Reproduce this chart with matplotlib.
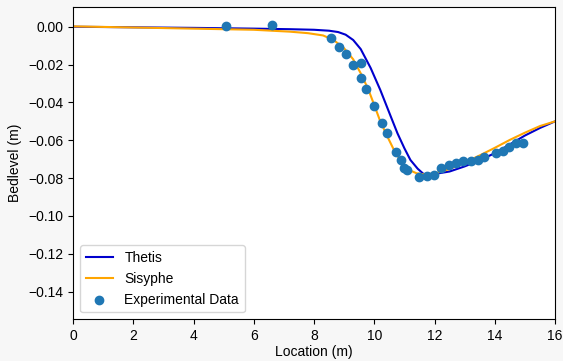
import numpy as np
import matplotlib
matplotlib.use("Agg")
import matplotlib.pyplot as plt

plt.rcParams["font.family"] = ["Liberation Sans", "DejaVu Sans"]
plt.rcParams["font.size"] = 10

# Thetis model bed level
thetis_x = [0, 2, 4, 6, 7.2, 8.0, 8.5, 8.8, 9.05, 9.3, 9.55, 9.88, 10.2, 10.55, 10.77,
            11.0, 11.2, 11.44, 11.65, 12.0, 12.5, 13.0, 13.5, 14.0, 14.5, 15.0, 15.5,
            16.0]
thetis_y = [0, -0.0003, -0.0006, -0.0010, -0.0013, -0.0016, -0.0021, -0.0028, -0.0042,
            -0.0070, -0.0118, -0.0218, -0.0334, -0.0475, -0.0563, -0.0642, -0.0704,
            -0.0750, -0.0780, -0.0778, -0.0765, -0.0738, -0.0706, -0.0668, -0.0622,
            -0.0575, -0.0535, -0.0500]

# Sisyphe model bed level
sisyphe_x = [0, 2, 4, 6, 7.2, 7.8, 8.3, 8.65, 9.0, 9.3, 9.55, 9.8, 10.0, 10.2, 10.45,
             10.65, 10.9, 11.1, 11.4, 11.65, 12.0, 12.5, 13.0, 13.5, 14.0, 14.5, 15.0,
             15.5, 16.0]
sisyphe_y = [0.0002, -0.0004, -0.0010, -0.0016, -0.0026, -0.0034, -0.0046, -0.0070,
             -0.0114, -0.0172, -0.0246, -0.0330, -0.0414, -0.0500, -0.0585, -0.0650,
             -0.0715, -0.0753, -0.0774, -0.0780, -0.0776, -0.0752, -0.0718, -0.0680,
             -0.0640, -0.0598, -0.0560, -0.0525, -0.0500]

# experimental measurements
exp_x = [5.08, 6.62, 8.57, 8.83, 9.05, 9.29, 9.55, 9.57, 9.71, 9.99, 10.27, 10.43,
         10.71, 10.88, 11.0, 11.1, 11.5, 11.75, 11.98, 12.21, 12.49, 12.71, 12.93,
         13.21, 13.43, 13.65, 14.04, 14.26, 14.48, 14.7, 14.93]
exp_y = [0.0004, 0.0009, -0.006, -0.0108, -0.0144, -0.020, -0.0193, -0.0272, -0.033,
         -0.0418, -0.051, -0.0562, -0.066, -0.0703, -0.0745, -0.0757, -0.0795, -0.079,
         -0.0782, -0.0747, -0.0729, -0.0721, -0.0712, -0.0712, -0.0703, -0.0689,
         -0.0665, -0.0654, -0.0633, -0.0615, -0.0615]

fig = plt.figure(figsize=(5.63, 3.61), dpi=100, facecolor="#f7f7f7")
ax = fig.add_axes([0.1297, 0.1155, 0.8561, 0.866])

ax.plot(thetis_x, thetis_y, color="mediumblue", linewidth=1.5, label="Thetis")
ax.plot(sisyphe_x, sisyphe_y, color="orange", linewidth=1.5, label="Sisyphe")
ax.scatter(exp_x, exp_y, color="tab:blue", s=36, label="Experimental Data", zorder=3)

ax.set_xlim(0, 16)
ax.set_ylim(-0.1546, 0.0106)
ax.set_xticks(np.arange(0, 17, 2))
ax.set_yticks(np.arange(-0.14, 0.001, 0.02))
ax.set_xlabel("Location (m)", labelpad=1.5)
ax.set_ylabel("Bedlevel (m)")
ax.legend(loc="lower left")

fig.savefig("out.png", dpi=100, facecolor=fig.get_facecolor())
